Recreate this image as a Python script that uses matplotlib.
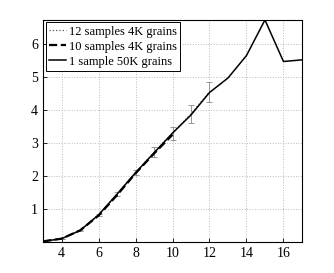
import matplotlib
matplotlib.use("Agg")
import matplotlib.pyplot as plt

plt.rcParams['font.family'] = ['Liberation Serif', 'DejaVu Serif']
plt.rcParams['mathtext.fontset'] = 'stix'

x12 = [3, 4, 5, 6, 7, 8, 9, 10, 11, 12]
y12 = [0.02, 0.10, 0.35, 0.82, 1.45, 2.10, 2.72, 3.30, 3.88, 4.55]
e12 = [0.0, 0.0, 0.01, 0.02, 0.05, 0.08, 0.15, 0.20, 0.27, 0.30]

x10 = [3, 4, 5, 6, 7, 8, 9, 10]
y10 = [0.02, 0.10, 0.35, 0.80, 1.42, 2.08, 2.68, 3.25]

x1 = [3, 4, 5, 6, 7, 8, 9, 10, 11, 12, 13, 14, 15, 16, 17]
y1 = [0.02, 0.10, 0.35, 0.82, 1.45, 2.10, 2.70, 3.30, 3.85, 4.53, 4.97, 5.65, 6.73, 5.47, 5.52]

labels = ['12 samples 4K grains', '10 samples 4K grains', '1 sample 50K grains']

fig = plt.figure(figsize=(3.34, 2.73), dpi=100)
ax = fig.add_axes([0.129, 0.1136, 0.775, 0.8134])

ax.errorbar(x12, y12, yerr=e12, fmt='none', ecolor='#888888',
            elinewidth=0.6, capsize=2, capthick=0.6)
ax.plot(x12, y12, color='#555555', linestyle=':', linewidth=0.9, label=labels[0])
ax.plot(x10, y10, color='black', linestyle='--', linewidth=1.6, label=labels[1])
ax.plot(x1, y1, color='black', linestyle='-', linewidth=1.1, label=labels[2])

ax.set_xlim(3, 17)
ax.set_ylim(0, 6.73)
ax.set_xticks([4, 6, 8, 10, 12, 14, 16])
ax.set_yticks([1, 2, 3, 4, 5, 6])
ax.grid(True, linestyle=':', color='#bbbbbb', linewidth=0.7)
ax.tick_params(direction='in', labelsize=10, length=3, width=0.6)
for s in ax.spines.values():
    s.set_linewidth(0.8)

leg = ax.legend(loc='upper left', fontsize=9, handlelength=1.4, handletextpad=0.2,
                borderpad=0.25, labelspacing=0.25, borderaxespad=0.2,
                fancybox=False, framealpha=1, edgecolor='black')
leg.get_frame().set_linewidth(0.7)

fig.savefig('out.png', dpi=100)
